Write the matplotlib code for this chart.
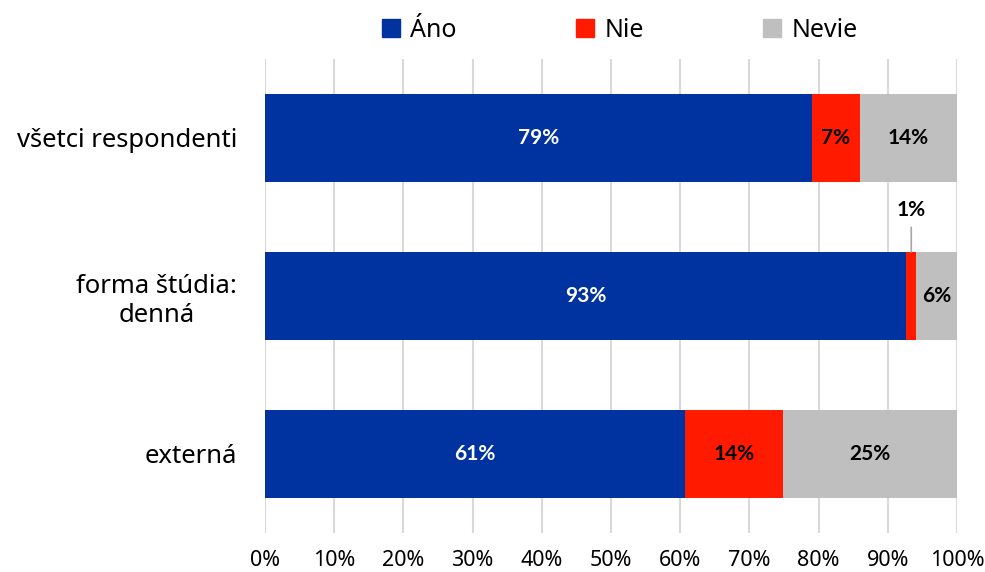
import numpy as np
import matplotlib.pyplot as plt
from matplotlib.patches import Patch

plt.rcParams['font.family'] = ['Noto Sans', 'DejaVu Sans']

categories = ['všetci respondenti', 'forma štúdia:\ndenná', 'externá']
ano = [79.0, 92.7, 60.7]
nie = [7.0, 1.4, 14.2]
nevie = [14.0, 5.9, 25.1]
ano_labels = ['79%', '93%', '61%']
nie_labels = ['7%', '1%', '14%']
nevie_labels = ['14%', '6%', '25%']
series_names = ['Áno', 'Nie', 'Nevie']
x_ticks = [0, 10, 20, 30, 40, 50, 60, 70, 80, 90, 100]

col_ano = '#0033A0'
col_nie = '#FF1A00'
col_nevie = '#BFBFBF'


def main():
    fig = plt.figure(figsize=(9.85, 5.72), dpi=100)
    ax = fig.add_axes([0.269, 0.0682, 0.7025, 0.8287])

    y = np.arange(len(categories))
    h = 0.557
    ano_a = np.array(ano)
    nie_a = np.array(nie)
    nevie_a = np.array(nevie)

    ax.barh(y, ano_a, height=h, color=col_ano, zorder=3)
    ax.barh(y, nie_a, left=ano_a, height=h, color=col_nie, zorder=3)
    ax.barh(y, nevie_a, left=ano_a + nie_a, height=h, color=col_nevie, zorder=3)

    # labels inside the bars (bold face from Lato)
    lbl = dict(fontsize=15, fontweight='bold', family=['Lato', 'DejaVu Sans'],
               zorder=5)
    for i in range(len(categories)):
        ax.text(ano_a[i] / 2, y[i], ano_labels[i], ha='center', va='center',
                color='white', **lbl)
        cx = ano_a[i] + nie_a[i] / 2
        if nie_a[i] >= 3:
            ax.text(cx, y[i], nie_labels[i], ha='center', va='center',
                    color='black', **lbl)
        else:
            # small slice: label above with leader line
            ax.annotate(nie_labels[i], xy=(cx, y[i] - h / 2),
                        xytext=(cx, y[i] - h / 2 - 0.2),
                        ha='center', va='bottom',
                        arrowprops=dict(arrowstyle='-', color='#A6A6A6', lw=1.2,
                                        shrinkA=3, shrinkB=0),
                        **lbl)
        ax.text(ano_a[i] + nie_a[i] + nevie_a[i] / 2, y[i], nevie_labels[i],
                ha='center', va='center', color='black', **lbl)

    ax.set_xlim(0, 100)
    ax.set_ylim(2.5, -0.5)
    ax.set_xticks(x_ticks)
    ax.set_xticklabels([f'{t}%' for t in x_ticks], fontsize=15.5)
    ax.set_yticks(y)
    ax.set_yticklabels(categories, fontsize=18.5)
    for lab in ax.get_yticklabels():
        lab.set_multialignment('center')
    ax.tick_params(axis='both', length=0)
    ax.tick_params(axis='y', pad=20)
    ax.tick_params(axis='x', pad=12)
    ax.grid(axis='x', color='#D9D9D9', lw=1.5, zorder=0)
    for s in ax.spines.values():
        s.set_visible(False)

    handles = [Patch(color=c) for c in (col_ano, col_nie, col_nevie)]
    fig.legend(handles, series_names, loc='center', bbox_to_anchor=(0.629, 0.947),
               ncol=3, frameon=False, fontsize=18, handlelength=0.75,
               handleheight=0.75, handletextpad=0.4, columnspacing=4.75)

    fig.savefig('out.png', dpi=100, facecolor='white')


if __name__ == '__main__':
    main()
